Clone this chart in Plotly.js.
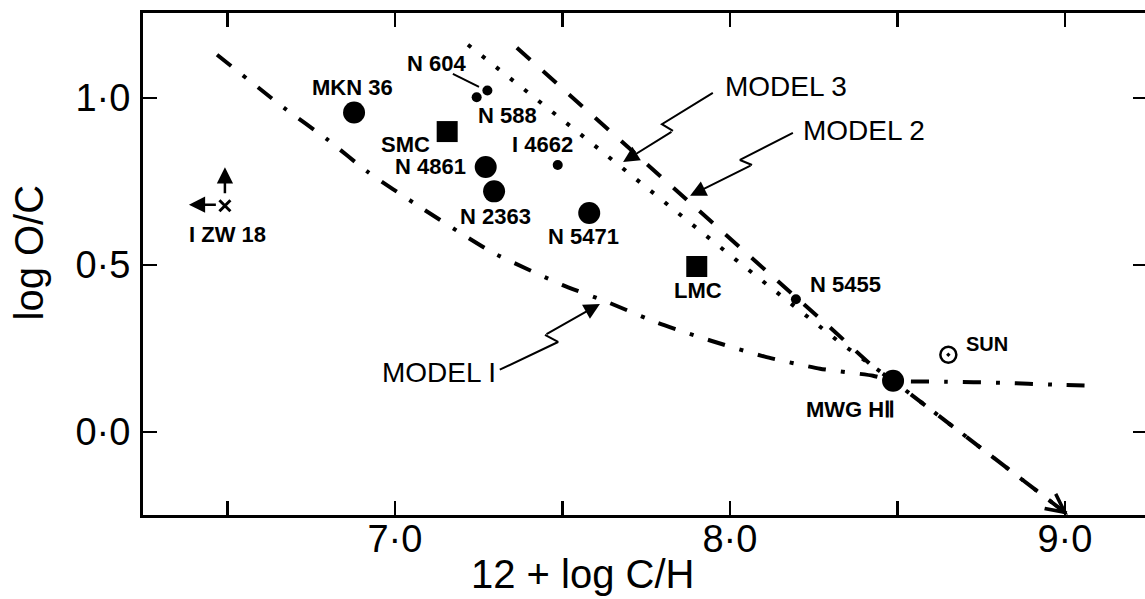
<!DOCTYPE html>
<html>
<head>
<meta charset="utf-8">
<script src="https://cdn.plot.ly/plotly-3.0.1.min.js"></script>
<style>
  html, body { margin: 0; padding: 0; overflow: hidden; background: #fff; }
  #chart { width: 1147px; height: 599px; }
</style>
</head>
<body>
<div id="chart"></div>
<script>
// ---- Data ----
// Model curves (12 + log C/H, log O/C)
const model1X = [6.469, 6.669, 6.800, 6.919, 7.069, 7.209, 7.293, 7.499, 7.633, 7.785, 7.946, 8.104, 8.269, 8.427, 8.487, 8.648, 8.806, 8.976, 9.081];
const model1Y = [1.129, 0.970, 0.874, 0.778, 0.677, 0.587, 0.536, 0.440, 0.389, 0.326, 0.272, 0.225, 0.189, 0.168, 0.153, 0.150, 0.147, 0.141, 0.138];
const model2X = [7.364, 7.627, 7.890, 8.125, 8.304, 8.427, 8.487, 9.009];
const model2Y = [1.150, 0.913, 0.680, 0.467, 0.308, 0.195, 0.153, -0.248];
const model3X = [7.218, 7.579, 8.018, 8.334, 8.487, 9.009];
const model3Y = [1.159, 0.871, 0.515, 0.263, 0.153, -0.248];

// Objects
const bigNames = ['MKN 36', 'N 4861', 'N 2363', 'N 5471', 'MWG HⅡ'];
const bigX = [6.878, 7.271, 7.296, 7.580, 8.487];
const bigY = [0.956, 0.793, 0.720, 0.655, 0.153];
const smallNames = ['N 604', 'N 588', 'I 4662', 'N 5455'];
const smallX = [7.244, 7.276, 7.486, 8.197];
const smallY = [1.002, 1.022, 0.799, 0.397];
const squareNames = ['SMC', 'LMC'];
const squareX = [7.156, 7.901];
const squareY = [0.899, 0.495];
const sunX = [8.652];
const sunY = [0.231];
const izwX = [6.4925];
const izwY = [0.677];

// Label positions
const labelText = ['MKN 36', 'N 604', 'N 588', 'SMC', 'I 4662', 'N 4861', 'N 2363', 'N 5471', 'LMC', 'N 5455', 'MWG HⅡ', 'I ZW 18'];
const labelX = [6.872, 7.125, 7.337, 7.033, 7.442, 7.107, 7.301, 7.564, 7.904, 8.346, 8.361, 6.501];
const labelY = [1.030, 1.102, 0.946, 0.859, 0.859, 0.793, 0.644, 0.584, 0.422, 0.440, 0.066, 0.590];

const modelLabels = ['MODEL 3', 'MODEL 2', 'MODEL I'];
const modelLabelX = [8.167, 8.400, 7.131];
const modelLabelY = [1.033, 0.901, 0.177];

// Zig-zag pointers (label -> curve)
const ptr3X = [7.949, 7.797, 7.830, 7.681];
const ptr3Y = [1.015, 0.921, 0.901, 0.808];
const ptr2X = [8.188, 8.030, 8.066, 7.881];
const ptr2Y = [0.895, 0.814, 0.799, 0.707];
const ptr1X = [7.313, 7.487, 7.448, 7.612];
const ptr1Y = [0.186, 0.269, 0.290, 0.383];
const ptr604X = [7.173, 7.251];
const ptr604Y = [1.072, 1.033];

const xTickVals = [6.5, 7.0, 7.5, 8.0, 8.5, 9.0];
const xTickText = ['', '7·0', '', '8·0', '', '9·0'];
const yTickVals = [0.0, 0.5, 1.0];
const yTickText = ['0·0', '0·5', '1·0'];

// ---- Traces ----
const black = '#000';
const traces = [
  { x: model1X, y: model1Y, mode: 'lines', line: { color: black, width: 4, dash: '18px,15px,4px,15px', shape: 'spline', smoothing: 0.5 }, hoverinfo: 'skip' },
  { x: model2X, y: model2Y, mode: 'lines', line: { color: black, width: 4, dash: '18px,17px' }, hoverinfo: 'skip' },
  { x: model3X, y: model3Y, mode: 'lines', line: { color: black, width: 4, dash: '4px,14px' }, hoverinfo: 'skip' },
  { x: ptr3X.slice(0, 3), y: ptr3Y.slice(0, 3), mode: 'lines', line: { color: black, width: 2 }, hoverinfo: 'skip' },
  { x: ptr2X.slice(0, 3), y: ptr2Y.slice(0, 3), mode: 'lines', line: { color: black, width: 2 }, hoverinfo: 'skip' },
  { x: ptr1X.slice(0, 3), y: ptr1Y.slice(0, 3), mode: 'lines', line: { color: black, width: 2 }, hoverinfo: 'skip' },
  { x: ptr604X, y: ptr604Y, mode: 'lines', line: { color: black, width: 2 }, hoverinfo: 'skip' },
  { x: bigX, y: bigY, text: bigNames, mode: 'markers', marker: { symbol: 'circle', size: 22, color: black } },
  { x: smallX, y: smallY, text: smallNames, mode: 'markers', marker: { symbol: 'circle', size: 10, color: black } },
  { x: squareX, y: squareY, text: squareNames, mode: 'markers', marker: { symbol: 'square', size: 21, color: black } },
  { x: sunX, y: sunY, mode: 'markers', marker: { symbol: 'circle-open-dot', size: 16, color: black, line: { width: 2.5, color: black } } },
  { x: izwX, y: izwY, mode: 'markers', marker: { symbol: 'x-thin', size: 11, color: black, line: { width: 3, color: black } } }
];

// ---- Annotations ----
const font = 'Liberation Sans, Arial, sans-serif';
const annotations = [];
labelText.forEach((t, i) => annotations.push({
  x: labelX[i], y: labelY[i], xref: 'x', yref: 'y', text: t, showarrow: false,
  font: { family: font, size: 22, color: black, weight: 'bold' }
}));
annotations.push({ x: 8.767, y: 0.263, xref: 'x', yref: 'y', text: 'SUN', showarrow: false,
  font: { family: font, size: 20, color: black, weight: 'bold' } });
modelLabels.forEach((t, i) => annotations.push({
  x: modelLabelX[i], y: modelLabelY[i], xref: 'x', yref: 'y', text: t, showarrow: false,
  font: { family: font, size: 28, color: black }
}));
// arrow heads of pointers
[[ptr3X, ptr3Y], [ptr2X, ptr2Y], [ptr1X, ptr1Y]].forEach(([px, py]) => annotations.push({
  x: px[3], y: py[3], ax: px[2], ay: py[2], xref: 'x', yref: 'y', axref: 'x', ayref: 'y',
  text: '', showarrow: true, arrowhead: 2, arrowsize: 1.6, arrowwidth: 2, arrowcolor: black
}));
// I ZW 18 limit arrows
annotations.push({ x: izwX[0], y: 0.792, ax: izwX[0], ay: 0.710, xref: 'x', yref: 'y', axref: 'x', ayref: 'y',
  text: '', showarrow: true, arrowhead: 2, arrowsize: 1.3, arrowwidth: 2.5, arrowcolor: black });
annotations.push({ x: 6.385, y: 0.680, ax: 6.470, ay: 0.680, xref: 'x', yref: 'y', axref: 'x', ayref: 'y',
  text: '', showarrow: true, arrowhead: 2, arrowsize: 1.3, arrowwidth: 2.5, arrowcolor: black });
// arrow heads at end of model 2/3 lines
annotations.push({ x: model2X[7], y: model2Y[7], ax: 8.955, ay: -0.207, xref: 'x', yref: 'y', axref: 'x', ayref: 'y',
  text: '', showarrow: true, arrowhead: 5, arrowsize: 1.2, arrowwidth: 3, arrowcolor: black });
// axis titles (paper coordinates)
annotations.push({ x: 0.438, y: -0.118, xref: 'paper', yref: 'paper', text: '12 + log C/H', showarrow: false,
  xanchor: 'center', yanchor: 'middle', font: { family: font, size: 40, color: black } });
annotations.push({ x: -0.114, y: 0.522, xref: 'paper', yref: 'paper', text: 'log O/C', textangle: -90, showarrow: false,
  xanchor: 'center', yanchor: 'middle', font: { family: font, size: 40, color: black } });

const layout = {
  width: 1147, height: 599,
  margin: { l: 143, r: 0, t: 13, b: 84 },
  paper_bgcolor: '#fff', plot_bgcolor: '#fff',
  showlegend: false,
  hovermode: false,
  xaxis: {
    range: [6.248, 9.245], showgrid: false, zeroline: false,
    showline: true, linewidth: 3, linecolor: black, mirror: 'ticks',
    ticks: 'inside', ticklen: 14, tickwidth: 2.5, tickcolor: black,
    tickmode: 'array', tickvals: xTickVals, ticktext: xTickText,
    tickfont: { family: font, size: 38, color: black }, ticklabelstandoff: -12
  },
  yaxis: {
    range: [-0.249, 1.254], showgrid: false, zeroline: false,
    showline: true, linewidth: 3, linecolor: black, mirror: 'ticks',
    ticks: 'inside', ticklen: 14, tickwidth: 2.5, tickcolor: black,
    tickmode: 'array', tickvals: yTickVals, ticktext: yTickText,
    tickfont: { family: font, size: 38, color: black }, ticklabelstandoff: 2
  },
  annotations: annotations
};

Plotly.newPlot('chart', traces, layout, { staticPlot: true, displayModeBar: false });
</script>
</body>
</html>
